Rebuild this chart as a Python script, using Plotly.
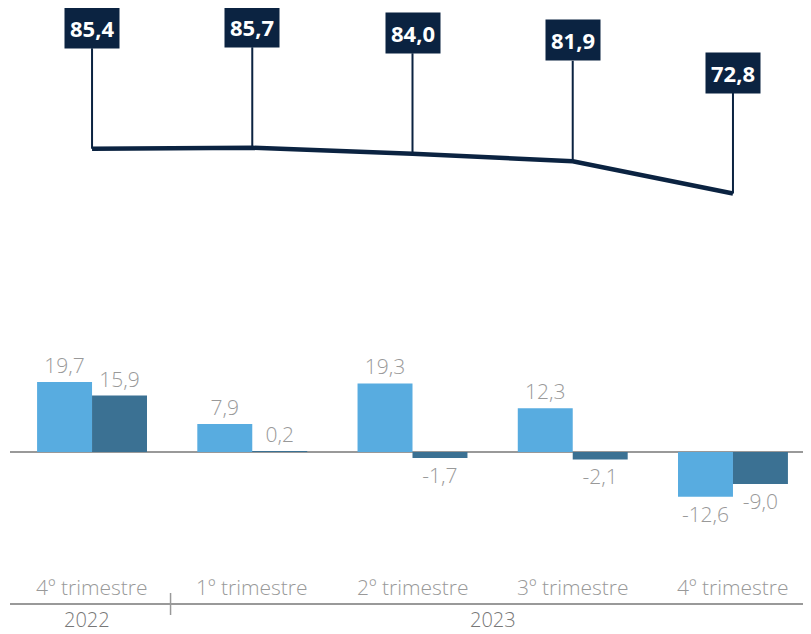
import plotly.graph_objects as go

trimestres = ["4º trimestre", "1º trimestre", "2º trimestre", "3º trimestre", "4º trimestre"]
anos = ["2022", "2023"]
linha = [85.4, 85.7, 84.0, 81.9, 72.8]
serie_a = [19.7, 7.9, 19.3, 12.3, -12.6]
serie_b = [15.9, 0.2, -1.7, -2.1, -9.0]

AZUL_ESCURO = "#0b2341"
AZUL_CLARO = "#58ace0"
AZUL_MEDIO = "#3b7193"
CINZA = "#999999"

W, H = 803, 626  # a página tem 8px de margem no body
BASE = 444       # pixel da linha zero
PX = 3.55        # pixels por unidade


def fmt(v):
    return f"{v:.1f}".replace(".", ",")


def py(pix):
    return 1 - pix / H


x = list(range(len(trimestres)))
fig = go.Figure()

for serie, cor in [(serie_a, AZUL_CLARO), (serie_b, AZUL_MEDIO)]:
    fig.add_trace(go.Bar(
        x=x, y=serie, marker_color=cor, marker_line_width=0,
        text=[fmt(v) for v in serie], textposition="outside", cliponaxis=False,
        textfont=dict(family="Open Sans", size=21, color=CINZA, weight=300),
    ))
fig.add_trace(go.Scatter(
    x=x, y=linha, mode="lines",
    line=dict(color=AZUL_ESCURO, width=4.5),
))

# rótulos da linha em caixas
for xi, v in zip(x, linha):
    fig.add_annotation(
        x=xi, y=v, xref="x", yref="y", ax=0, ay=-121,
        text=f"<b>{fmt(v)}</b>", showarrow=True, arrowhead=0,
        arrowwidth=2, arrowcolor=AZUL_ESCURO, standoff=0,
        bgcolor=AZUL_ESCURO, borderpad=5,
        font=dict(family="Open Sans", size=22, color="white"),
    )

# eixo x feito à mão: trimestres acima da linha, anos abaixo
for xi, t in zip(x, trimestres):
    fig.add_annotation(
        x=xi, y=py(579), xref="x", yref="paper", yanchor="middle",
        text=t, showarrow=False,
        font=dict(family="Open Sans", size=21, color=CINZA, weight=300),
    )
for xi, a in zip([-0.03, 2.5], anos):
    fig.add_annotation(
        x=xi, y=0, xref="x", yref="paper", yanchor="bottom",
        text=a, showarrow=False, borderpad=0,
        font=dict(family="Open Sans", size=20, color="#777777", weight=300),
    )
fig.add_shape(type="line", xref="paper", yref="paper", x0=0, x1=1,
              y0=py(596), y1=py(596), line=dict(color=CINZA, width=2))
fig.add_shape(type="line", xref="x", yref="paper", x0=0.49, x1=0.49,
              y0=py(585), y1=py(607), line=dict(color=CINZA, width=1.5))

fig.update_layout(
    width=W, height=H,
    margin=dict(l=2, r=0, t=0, b=0),
    paper_bgcolor="white", plot_bgcolor="white",
    showlegend=False, barmode="group", bargap=0.314, bargroupgap=0,
    xaxis=dict(range=[-0.512, 4.487], visible=False, fixedrange=True),
    yaxis=dict(range=[(BASE - H) / PX, BASE / PX], visible=True,
               showticklabels=False, showgrid=False, zeroline=True,
               zerolinecolor=CINZA, zerolinewidth=2, layer="below traces",
               fixedrange=True),
)

fig.write_html("out.html")
